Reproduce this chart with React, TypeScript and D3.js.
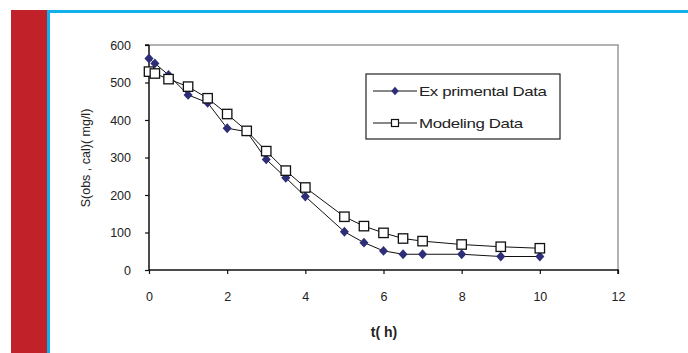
import * as d3 from 'd3'
import React, { useEffect, useRef } from 'react'

const expT = [0, 0.15, 0.5, 1, 1.5, 2, 2.5, 3, 3.5, 4, 5, 5.5, 6, 6.5, 7, 8, 9, 10]
const expS = [564, 551, 520, 467, 446, 378, 369, 295, 246, 196, 102, 73, 51, 42, 42, 42, 36, 36]
const modT = [0, 0.15, 0.5, 1, 1.5, 2, 2.5, 3, 3.5, 4, 5, 5.5, 6, 6.5, 7, 8, 9, 10]
const modS = [529, 524, 509, 489, 458, 416, 371, 317, 265, 220, 142, 117, 99, 84, 77, 68, 62, 58]
const xTicks = [0, 2, 4, 6, 8, 10, 12]
const yTicks = [0, 100, 200, 300, 400, 500, 600]
const seriesNames = ['Ex primental Data', 'Modeling Data']

const W = 688
const H = 353
const font = '"Liberation Sans", Arial, sans-serif'

export default function App() {
  const svgRef = useRef<SVGSVGElement>(null)

  useEffect(() => {
    if (!svgRef.current) return
    const svg = d3.select(svgRef.current)
    svg.selectAll('*').remove()

    // page decoration
    svg.append('rect').attr('x', 0).attr('y', 0).attr('width', W).attr('height', H).attr('fill', '#fff')
    svg.append('rect').attr('x', 11).attr('y', 10).attr('width', 36).attr('height', H - 10).attr('fill', '#c1222a')
    svg.append('rect').attr('x', 47).attr('y', 10).attr('width', 3).attr('height', H - 10).attr('fill', '#12b0ea')
    svg.append('rect').attr('x', 47).attr('y', 10).attr('width', W - 47).attr('height', 3).attr('fill', '#12b0ea')

    const x = d3.scaleLinear().domain([0, 12]).range([149, 618])
    const y = d3.scaleLinear().domain([0, 600]).range([270, 45])

    // frame
    svg.append('path')
      .attr('d', `M${x(0)},${y(600)}H${x(12)}V${y(0)}`)
      .attr('fill', 'none').attr('stroke', '#999').attr('stroke-width', 1.5)

    const xAxis = svg.append('g')
      .attr('transform', `translate(0,${y(0)})`)
      .call(d3.axisBottom(x).tickValues(xTicks).tickSize(4).tickPadding(18).tickFormat(d3.format('d')))
    const yAxis = svg.append('g')
      .attr('transform', `translate(${x(0)},0)`)
      .call(d3.axisLeft(y).tickValues(yTicks).tickSize(4).tickPadding(14).tickFormat(d3.format('d')))
    ;[xAxis, yAxis].forEach(a => {
      a.select('.domain').attr('stroke', '#111').attr('stroke-width', 1.5)
      a.selectAll('.tick line').attr('stroke', '#111').attr('stroke-width', 1.2)
      a.selectAll('text').attr('font-family', font).attr('font-size', 12.5).attr('fill', '#222')
    })
    yAxis.select('.domain').attr('d', `M0,${y(600)}H-4M0,${y(600)}V${y(0)}`)
    xAxis.select('.domain').attr('d', `M${x(0)},0H${x(12)}V4`)

    svg.append('text')
      .attr('x', 384).attr('y', 337)
      .attr('text-anchor', 'middle')
      .attr('font-family', font).attr('font-size', 14).attr('font-weight', 'bold').attr('fill', '#222')
      .text('t( h)')
    svg.append('text')
      .attr('transform', `translate(90,158) rotate(-90)`)
      .attr('text-anchor', 'middle')
      .attr('font-family', font).attr('font-size', 12.5).attr('fill', '#222')
      .text('S(obs , cal)( mg/l)')

    const line = d3.line<[number, number]>().x(d => x(d[0])).y(d => y(d[1]))
    const expData: [number, number][] = expT.map((t, i) => [t, expS[i]])
    const modData: [number, number][] = modT.map((t, i) => [t, modS[i]])

    const diamond = d3.symbol().type(d3.symbolDiamond2).size(52)
    const smallDiamond = d3.symbol().type(d3.symbolDiamond2).size(36)

    svg.append('path').attr('d', line(expData)!).attr('fill', 'none').attr('stroke', '#111').attr('stroke-width', 1)
    svg.append('path').attr('d', line(modData)!).attr('fill', 'none').attr('stroke', '#111').attr('stroke-width', 1)

    svg.append('g').selectAll('path').data(expData).enter().append('path')
      .attr('d', diamond()!)
      .attr('transform', d => `translate(${x(d[0])},${y(d[1])}) scale(1,1.1)`)
      .attr('fill', '#2e2e78')
    svg.append('g').selectAll('rect').data(modData).enter().append('rect')
      .attr('x', d => x(d[0]) - 4.7).attr('y', d => y(d[1]) - 4.7)
      .attr('width', 9.4).attr('height', 9.4)
      .attr('fill', '#fff').attr('stroke', '#111').attr('stroke-width', 1.3)

    // legend
    const lg = svg.append('g')
    lg.append('rect').attr('x', 366).attr('y', 74).attr('width', 194).attr('height', 65)
      .attr('fill', '#fff').attr('stroke', '#222').attr('stroke-width', 1.2)
    seriesNames.forEach((name, i) => {
      const cy = 91 + i * 32
      lg.append('line').attr('x1', 373).attr('x2', 417).attr('y1', cy).attr('y2', cy)
        .attr('stroke', '#111').attr('stroke-width', 1)
      if (i === 0) {
        lg.append('path').attr('d', smallDiamond()!).attr('transform', `translate(395,${cy}) scale(1,1.1)`).attr('fill', '#2e2e78')
      } else {
        lg.append('rect').attr('x', 391.5).attr('y', cy - 3.5).attr('width', 7).attr('height', 7)
          .attr('fill', '#fff').attr('stroke', '#111').attr('stroke-width', 1.2)
      }
      lg.append('text')
        .attr('transform', `translate(419,${cy + 4.7}) scale(1.3,1)`)
        .attr('font-family', font).attr('font-size', 13).attr('fill', '#222')
        .attr('letter-spacing', -0.3)
        .text(name)
    })
  }, [])

  return (
    <svg ref={svgRef} width={W} height={H} style={{ position: 'absolute', left: 0, top: 0, display: 'block' }} />
  )
}
